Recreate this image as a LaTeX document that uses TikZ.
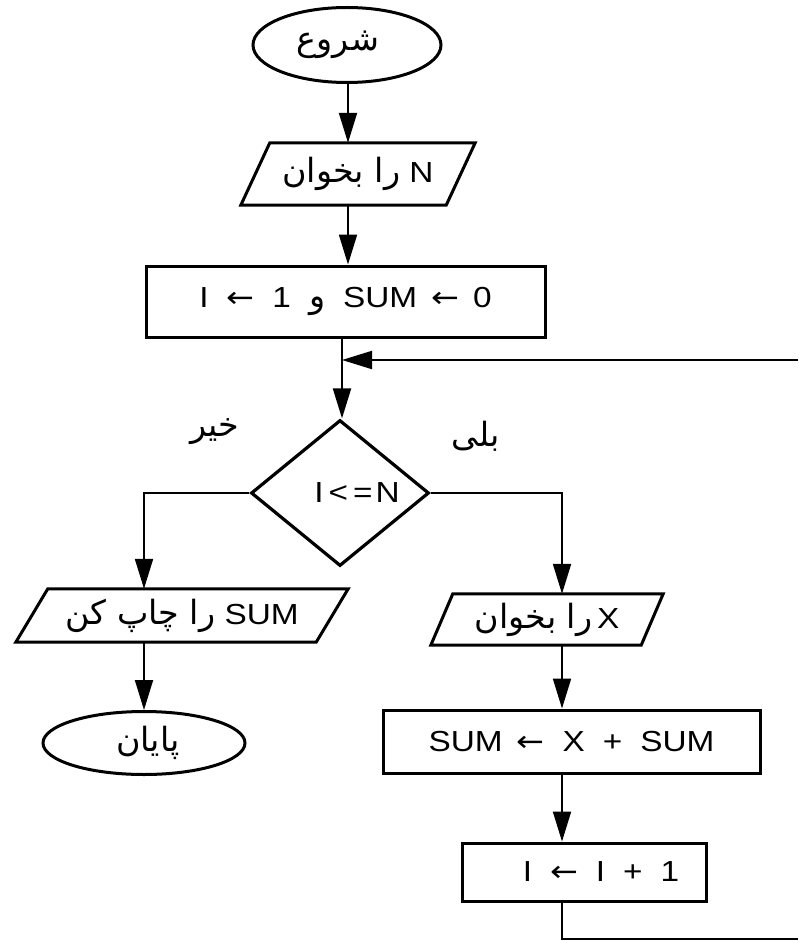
\documentclass[tikz,border=0pt]{standalone}
\usepackage{fontspec}
\setmainfont{Liberation Sans}[FakeStretch=1.15]
\newfontfamily\arfont[Script=Arabic,Scale=1.15]{DejaVu Sans}
\newfontfamily\symfont{DejaVu Sans}
\TeXXeTstate=1
\usetikzlibrary{shapes.geometric,arrows.meta,calc}
\newcommand\myarrow{\scalebox{1.15}[1]{\symfont ←}}
\newcommand\mygap{\hspace{18pt}}
\tikzset{
  txt/.style={font=\fontsize{29}{32}\selectfont, inner sep=0pt},
  box/.style={txt, draw, line width=3pt, rectangle},
  term/.style={txt, draw, line width=3pt, ellipse},
  iobox/.style={txt, rectangle},
  outline/.style={line width=3pt, line join=miter},
  dec/.style={draw, diamond, line width=3.2pt, inner sep=0pt},
  link/.style={line width=2pt},
  flow/.style={link, -{Triangle[length=30pt,width=18pt]}},
}
\begin{document}
\begin{tikzpicture}[x=1pt,y=-1pt]
\useasboundingbox (0,0) rectangle (798,941);
% nodes
\node[term, minimum width=188pt, minimum height=75pt] (start) at (347,45) {\hspace*{-18pt}\arfont\beginR شروع\endR};
\node[iobox, minimum width=205pt, minimum height=62pt] (p1) at (358,174) {{\arfont\beginR را بخوان\endR} N};
\node[box, minimum width=399pt, minimum height=71pt] (r1) at (345.5,301.5) {I\mygap\myarrow\mygap 1\mygap{\arfont و}\mygap SUM\hspace{14pt}\myarrow\hspace{14pt}0};
\coordinate (j) at (342,360);
\coordinate (loopin) at (798,360);
\node[dec, minimum width=178pt, minimum height=146pt] (d) at (340,493) {};
\node[txt] (dtext) at (357,493) {I\hspace{5pt}<\hspace{5pt}=\hspace{3pt}N};
\node[txt] (no) at (215,432) {\arfont\beginR خیر\endR};
\node[txt] (yes) at (476,436) {\arfont\beginR بلی\endR};
\node[iobox, minimum width=300pt, minimum height=53pt] (p2) at (182,615.5) {{\arfont\beginR را چاپ کن\endR} SUM};
\node[term, minimum width=202pt, minimum height=63pt] (e2) at (144,743) {\hspace*{8pt}\arfont\beginR پایان\endR};
\coordinate (rc) at (562,493);
\node[iobox, minimum width=210pt, minimum height=51pt] (p3) at (547,619.5) {{\arfont\beginR را بخوان\endR}\,X};
\node[box, minimum width=377pt, minimum height=63pt] (r2) at (571.5,741.5) {SUM\hspace{14pt}\myarrow\mygap X\mygap+\mygap SUM};
\node[box, minimum width=244pt, minimum height=58pt] (r3) at (584,872) {\hspace*{34pt}I\mygap\myarrow\mygap I\mygap+\mygap 1};
\coordinate (loopout) at (798,939);
% parallelogram outlines
\draw[outline] ([xshift=-14.5pt]p1.south west) -- ([xshift=14.5pt]p1.north west) -- ([xshift=14.5pt]p1.north east) -- ([xshift=-14.5pt]p1.south east) -- cycle;
\draw[outline] ([xshift=-16pt]p2.south west) -- ([xshift=16pt]p2.north west) -- ([xshift=16pt]p2.north east) -- ([xshift=-16pt]p2.south east) -- cycle;
\draw[outline] ([xshift=-11pt]p3.south west) -- ([xshift=11pt]p3.north west) -- ([xshift=11pt]p3.north east) -- ([xshift=-11pt]p3.south east) -- cycle;
% connectors
\draw[flow] ([xshift=1pt]start.south) -- ([xshift=1pt]start.south |- p1.north);
\draw[flow] ([xshift=1pt]start.south |- p1.south) -- ([xshift=1pt]start.south |- r1.north);
\draw[link] (r1.south -| j) -- (j);
\draw[flow] (loopin) -- (j);
\draw[flow] (j) -- (j |- d.north);
\draw[flow] (d.west) -| (e2.north |- p2.north);
\draw[flow] (e2.north |- p2.south) -- (e2.north);
\draw[flow] (d.east) -- (rc) -- (rc |- p3.north);
\draw[flow] (rc |- p3.south) -- (rc |- r2.north);
\draw[flow] (rc |- r2.south) -- (rc |- r3.north);
\draw[link] (rc |- r3.south) |- (loopout);
\end{tikzpicture}
\end{document}
